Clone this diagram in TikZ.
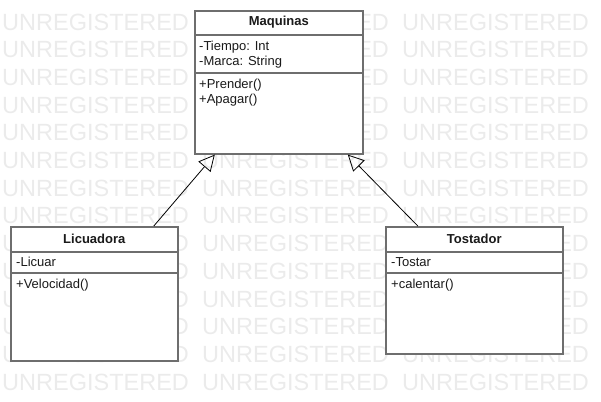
\documentclass[tikz,border=0pt]{standalone}
\usepackage{fontspec}
\setmainfont{Liberation Sans}
\usetikzlibrary{arrows.meta}

\definecolor{borde}{HTML}{6E6E6E}
\definecolor{marca}{HTML}{EBEBEB}
\definecolor{texto}{HTML}{1A1A1A}

\tikzset{
  clase/.style={draw=borde, line width=1.6pt, fill=white, anchor=north west, inner sep=0pt},
  titulo/.style={inner sep=0pt, text=texto, font=\fontsize{13}{15}\selectfont\bfseries},
  miembros/.style={anchor=north west, align=left, inner sep=0pt, text=texto,
    font=\fontsize{13}{14.5}\selectfont},
  separador/.style={draw=borde, line width=1.3pt},
  herencia/.style={-{Triangle[open, length=16pt, width=16pt]}, line width=0.8pt},
  agua/.style={text=marca, anchor=west, inner sep=0pt, font=\fontsize{23.5}{24}\selectfont}
}

\begin{document}
\begin{tikzpicture}[x=1pt, y=-1pt]

    % Marco
    \useasboundingbox (0,0) rectangle (601,401);

    % Marca de agua
    \foreach \fila in {0,...,13}
      \foreach \col in {0,1,2}
        \node[agua] (agua-\fila-\col) at ({2+200*\col}, {22+27.7*\fila}) {UNREGISTERED};

    % Maquinas
    \node[clase, minimum width=168pt, minimum height=143pt] (maq) at (194,10) {};
    \draw[separador] ([yshift=-25pt]maq.north west) -- ([yshift=-25pt]maq.north east);
    \draw[separador] ([yshift=-63pt]maq.north west) -- ([yshift=-63pt]maq.north east);
    \node[titulo] (maq-tit) at ([yshift=-12.5pt]maq.north) {Maquinas};
    \node[miembros] (maq-atr) at ([xshift=5pt, yshift=-31pt]maq.north west) {-Tiempo: Int\\-Marca: String};
    \node[miembros] (maq-met) at ([xshift=5pt, yshift=-69pt]maq.north west) {+Prender()\\+Apagar()};

    % Licuadora
    \node[clase, minimum width=167pt, minimum height=134pt] (lic) at (10,226) {};
    \draw[separador] ([yshift=-26pt]lic.north west) -- ([yshift=-26pt]lic.north east);
    \draw[separador] ([yshift=-47pt]lic.north west) -- ([yshift=-47pt]lic.north east);
    \node[titulo] (lic-tit) at ([yshift=-12.5pt]lic.north) {Licuadora};
    \node[miembros] (lic-atr) at ([xshift=6pt, yshift=-31pt]lic.north west) {-Licuar};
    \node[miembros] (lic-met) at ([xshift=6pt, yshift=-53pt]lic.north west) {+Velocidad()};

    % Tostador
    \node[clase, minimum width=177pt, minimum height=127pt] (tos) at (385,226) {};
    \draw[separador] ([yshift=-26pt]tos.north west) -- ([yshift=-26pt]tos.north east);
    \draw[separador] ([yshift=-47pt]tos.north west) -- ([yshift=-47pt]tos.north east);
    \node[titulo] (tos-tit) at ([yshift=-12.5pt]tos.north) {Tostador};
    \node[miembros] (tos-atr) at ([xshift=6pt, yshift=-31pt]tos.north west) {-Tostar};
    \node[miembros] (tos-met) at ([xshift=6pt, yshift=-53pt]tos.north west) {+calentar()};

    % Herencia
    \draw[herencia] ([xshift=59.5pt]lic.north) -- ([xshift=-64pt]maq.south);
    \draw[herencia] ([xshift=-56.5pt]tos.north) -- ([xshift=69pt]maq.south);

\end{tikzpicture}
\end{document}
